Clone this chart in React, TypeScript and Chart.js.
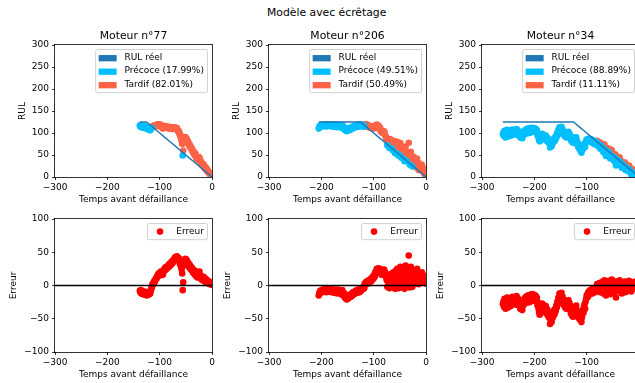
import React, { useEffect, useRef } from 'react';
import { Chart, registerables } from 'chart.js';

Chart.register(...registerables);

const FONT = '"DejaVu Sans", "Liberation Sans", sans-serif';

// ---- chart content -------------------------------------------------------
const SUPTITLE = 'Modèle avec écrêtage';
const ENGINES = [77, 206, 34];
const RUL_CAP = 125;

const X_MIN = -300;
const X_MAX = 0;
const X_STEP = 100;
const RUL_MIN = 0;
const RUL_MAX = 300;
const RUL_STEP = 50;
const ERR_MIN = -100;
const ERR_MAX = 100;
const ERR_STEP = 50;

const X_LABEL = 'Temps avant défaillance';
const RUL_LABEL = 'RUL';
const ERR_LABEL = 'Erreur';
const TRUE_NAME = 'RUL réel';
const EARLY_NAME = 'Précoce';
const LATE_NAME = 'Tardif';

// prediction error (predicted - true RUL), one value per cycle, last value at t = 0
const ERR_77 = [
  -8, -10, -7, -12, -9, -11, -13, -10, -12, -9,
  -14, -11, -13, -15, -12, -10, -14, -11, -13, -9,
  -12, -8, -5, -3,
  1, 3, 2, 5, 7, 6, 9, 11, 10, 14,
  13, 16, 18, 17, 15, 19, 21, 18, 20, 17,
  16, 19, 22, 25, 23, 27, 24, 28, 26, 29,
  27, 30, 32, 29, 33, 31, 34, 36, 33, 35,
  38, 36, 40, 42, 39, 43, 41, 44, 42, 40,
  38, 41, 36, 32, 35, 28, 24, 18, -7, 5,
  30, 34, 38, 40, 36, 39, 37, 33, 35, 30,
  28, 32, 26, 29, 24, 27, 22, 25, 19, 21,
  18, 16, 22, 20, 14, 17, 12, 15, 19, 13,
  21, 16, 11, 14, 9, 12, 8, 10, 13, 7,
  9, 6, 10, 5, 8, 4, 7, 3, 6, 4,
  2, 5, 3, 1, 2,
];

const ERR_206 = [
  -15, -12, -10, -8, -11, -9, -7, -10, -6, -8,
  -9, -7, -5, -8, -6, -10, -7, -9, -5, -8,
  -6, -9, -7, -5, -8, -10, -6, -9, -7, -11,
  -8, -6, -10, -7, -9, -12, -8, -6, -10, -7,
  -9, -11, -8, -13, -10, -7, -12, -15, -11, -14,
  -18, -16, -20, -17, -21, -15, -19, -16, -14, -18,
  -15, -17, -13, -16, -12, -14, -10, -13, -11, -9,
  -12, -8, -10, -7, -11, -9, -6, -8, -10, -7,
  -5, -8, -4, -6, -3, -5, -2, -4, 3, 1,
  5, 2, 6, 4, 7, 3, 8, 5, 9, 6,
  10, 7, 12, 9, 14, 11, 16, 13, 20, 18,
  22, 25, 21, 24, 26, 23, 20, 25, 22, 18,
  16, 20, 18, 22, 19, 24, 21, 17, 15, 12,
  8, -2, 14, 1, 10, -4, 17, 3, 12, -1,
  18, 6, -3, 20, 2, 15, -5, 22, 8, -2,
  25, 10, -4, 18, -1, 12, 28, 5, -3, 16,
  20, -2, 8, 14, -5, 22, 30, 6, -1, 11,
  18, 9, 45, 24, -3, 12, 28, 5, 16, -2,
  10, 22, 4, 15, 8, 19, 3, 12, 25, 7,
  14, 2, 18, 9, 5, 16, 11, 20, 6, 13,
  8, 15, 4, 10, 6, 3,
];

const ERR_34 = [
  -28, -24, -32, -20, -26, -35, -22, -30, -18, -25,
  -33, -21, -27, -19, -24, -31, -22, -28, -17, -26,
  -20, -23, -18, -25, -21, -29, -16, -24, -19, -27,
  -22, -30, -26, -35, -28, -33, -24, -37, -25, -30,
  -21, -27, -19, -24, -17, -22, -26, -15, -20, -23,
  -18, -25, -14, -21, -17, -23, -13, -19, -16, -22,
  -14, -18, -21, -16, -24, -19, -30, -26, -35, -40,
  -44, -36, -42, -30, -38, -27, -33, -29, -37, -32,
  -35, -40, -31, -38, -43, -36, -45, -41, -48, -44,
  -58, -52, -47, -55, -42, -49, -40, -45, -37, -43,
  -35, -38, -30, -33, -24, -28, -18, -22, -12, -16,
  -14, -20, -11, -25, -17, -28, -22, -30, -26, -33,
  -29, -35, -24, -31, -27, -22, -33, -26, -30, -38,
  -42, -36, -45, -40, -47, -38, -44, -33, -41, -35,
  -30, -37, -44, -39, -48, -42, -50, -46, -52, -40,
  -55, -48, -43, -36, -41, -32, -28, -35, -24, -20,
  -15, -18, -12, -16, -9, -13, -10, -7, -11, -6,
  -8, -12, -5, -9, -4, -7, -10, -3, -6, -2,
  2, -5, 1, -8, -3, 4, -10, -1, 3, -6,
  -4, 6, -12, -2, 8, -7, 1, -15, -3, 5,
  -9, 3, -1, 7, -6, -13, 2, -4, 9, -8,
  1, -5, 4, -11, -2, 6, -18, -7, 1, -3,
  5, -6, -1, 8, -9, -4, 2, -12, -2, 3,
  -7, 1, -3, 6, -10, -5, 4, -2, -8, 2,
  -4, 7, -1, -6, 3, -9, -2, 5, -5, -3,
  2, -4, -1, 6, -3, -2, -1, -2, -1, -1,
  -1,
];

const ERRORS = [ERR_77, ERR_206, ERR_34];

// ---- styling ---------------------------------------------------------------
const COLOR_TRUE = '#1f77b4';
const COLOR_EARLY = '#00bfff';
const COLOR_LATE = '#ff6347';
const COLOR_ERR = '#ff0000';

const TICK_FS = 9;
const TITLE_FS = 10.8;
const MARKER_R = 3.3;

const COL_LEFT = [55, 269, 482];
const PLOT_W = 157;
const ROW_TOP = [45, 219];
const ROW_H = [132, 133];
const M_LEFT = 55;
const M_TOP = 45;
const M_RIGHT = 12;
const M_BOTTOM = 36;

type LegendItem = { label: string; color: string; shape: 'rect' | 'circle' };

const minusSign = (v: number | string) => String(v).replace('-', '\u2212');

function roundedRect(ctx: CanvasRenderingContext2D, x: number, y: number, w: number, h: number, r: number) {
  ctx.beginPath();
  ctx.moveTo(x + r, y);
  ctx.lineTo(x + w - r, y);
  ctx.arcTo(x + w, y, x + w, y + r, r);
  ctx.lineTo(x + w, y + h - r);
  ctx.arcTo(x + w, y + h, x + w - r, y + h, r);
  ctx.lineTo(x + r, y + h);
  ctx.arcTo(x, y + h, x, y + h - r, r);
  ctx.lineTo(x, y + r);
  ctx.arcTo(x, y, x + r, y, r);
  ctx.closePath();
}

function drawLegend(ctx: CanvasRenderingContext2D, area: any, items: LegendItem[]) {
  const fs = TICK_FS;
  ctx.font = `${fs}px ${FONT}`;
  const textW = Math.max(...items.map((it) => ctx.measureText(it.label).width));
  const pad = 0.4 * fs;
  const handleLen = 2 * fs;
  const handleGap = 0.8 * fs;
  const rowGap = 0.5 * fs;
  const axPad = 0.5 * fs;
  const boxW = pad + handleLen + handleGap + textW + pad;
  const boxH = 2 * pad + items.length * fs + (items.length - 1) * rowGap;
  const x0 = area.right - axPad - boxW;
  const y0 = area.top + axPad;

  roundedRect(ctx, x0, y0, boxW, boxH, 1.8);
  ctx.fillStyle = 'rgba(255,255,255,0.8)';
  ctx.fill();
  ctx.strokeStyle = '#cccccc';
  ctx.lineWidth = 0.9;
  ctx.stroke();

  items.forEach((it, i) => {
    const cy = y0 + pad + fs / 2 + i * (fs + rowGap);
    ctx.fillStyle = it.color;
    if (it.shape === 'rect') {
      ctx.fillRect(x0 + pad - 0.6, cy - 0.35 * fs + 0.6, handleLen, 0.7 * fs);
    } else {
      ctx.beginPath();
      ctx.arc(x0 + pad + handleLen / 2, cy, MARKER_R, 0, Math.PI * 2);
      ctx.fill();
    }
    ctx.fillStyle = '#000';
    ctx.textAlign = 'left';
    ctx.textBaseline = 'middle';
    ctx.fillText(it.label, x0 + pad + handleLen + handleGap, cy);
  });
}

function Panel({ row, col }: { row: number; col: number }) {
  const ref = useRef<HTMLCanvasElement | null>(null);
  const w = M_LEFT + PLOT_W + M_RIGHT;
  const h = M_TOP + ROW_H[row] + M_BOTTOM;

  useEffect(() => {
    const canvas = ref.current;
    if (!canvas) return;
    const errs = ERRORS[col];
    const n = errs.length;
    const times = errs.map((_, i) => i - (n - 1));
    const truth = times.map((t) => Math.min(-t, RUL_CAP));

    const tickFont = { family: FONT, size: TICK_FS };
    const scatterStyle = (color: string) => ({
      showLine: false,
      pointRadius: MARKER_R,
      pointHoverRadius: MARKER_R,
      pointBorderWidth: 0,
      pointBackgroundColor: color,
      pointBorderColor: color,
      backgroundColor: color,
      borderColor: color,
      clip: 0,
    });

    let datasets: any[];
    let legend: LegendItem[];
    let title = '';
    if (row === 0) {
      const early: { x: number; y: number }[] = [];
      const late: { x: number; y: number }[] = [];
      errs.forEach((e, i) => {
        const p = { x: times[i], y: truth[i] + e };
        if (e < 0) early.push(p);
        else late.push(p);
      });
      const pctEarly = ((100 * early.length) / n).toFixed(2);
      const pctLate = ((100 * late.length) / n).toFixed(2);
      datasets = [
        {
          label: TRUE_NAME,
          data: times.map((t, i) => ({ x: t, y: truth[i] })),
          showLine: true,
          borderColor: COLOR_TRUE,
          borderWidth: 1.4,
          pointRadius: 0,
          tension: 0,
          order: 0,
          clip: 0,
        },
        { label: EARLY_NAME, data: early, order: 1, ...scatterStyle(COLOR_EARLY) },
        { label: LATE_NAME, data: late, order: 2, ...scatterStyle(COLOR_LATE) },
      ];
      legend = [
        { label: TRUE_NAME, color: COLOR_TRUE, shape: 'rect' },
        { label: `${EARLY_NAME} (${pctEarly}%)`, color: COLOR_EARLY, shape: 'rect' },
        { label: `${LATE_NAME} (${pctLate}%)`, color: COLOR_LATE, shape: 'rect' },
      ];
      title = `Moteur n°${ENGINES[col]}`;
    } else {
      datasets = [
        {
          label: 'zero',
          data: [
            { x: X_MIN, y: 0 },
            { x: X_MAX, y: 0 },
          ],
          showLine: true,
          borderColor: '#000',
          borderWidth: 1.5,
          pointRadius: 0,
          order: 0,
          clip: 0,
        },
        {
          label: ERR_LABEL,
          data: errs.map((e, i) => ({ x: times[i], y: e })),
          order: 1,
          ...scatterStyle(COLOR_ERR),
        },
      ];
      legend = [{ label: ERR_LABEL, color: COLOR_ERR, shape: 'circle' }];
    }

    const decor = {
      id: 'panelDecor',
      afterDraw(chart: any) {
        const { ctx, chartArea: a } = chart;
        ctx.save();
        ctx.strokeStyle = '#000';
        ctx.lineWidth = 0.8;
        ctx.strokeRect(a.left - 0.5, a.top - 0.5, a.right - a.left + 1, a.bottom - a.top + 1);
        if (title) {
          ctx.font = `${TITLE_FS}px ${FONT}`;
          ctx.fillStyle = '#000';
          ctx.textAlign = 'center';
          ctx.textBaseline = 'alphabetic';
          ctx.fillText(title, (a.left + a.right) / 2, a.top - 5.7);
        }
        drawLegend(ctx, a, legend);
        ctx.restore();
      },
    };

    const yMin = row === 0 ? RUL_MIN : ERR_MIN;
    const yMax = row === 0 ? RUL_MAX : ERR_MAX;
    const yStep = row === 0 ? RUL_STEP : ERR_STEP;
    const yLabel = row === 0 ? RUL_LABEL : ERR_LABEL;
    const yTitlePad = row === 0 ? 17.3 : 8.6;

    const grid = {
      drawOnChartArea: false,
      drawTicks: true,
      tickLength: 3,
      tickColor: '#000',
      lineWidth: 0.8,
    };

    const chart = new Chart(canvas, {
      type: 'scatter',
      data: { datasets },
      options: {
        responsive: false,
        animation: false,
        devicePixelRatio: 1,
        events: [],
        layout: { padding: { left: 0, top: M_TOP, right: M_RIGHT, bottom: 0 } },
        plugins: {
          legend: { display: false },
          tooltip: { enabled: false },
          title: { display: false },
        },
        scales: {
          x: {
            type: 'linear',
            position: 'bottom',
            min: X_MIN,
            max: X_MAX,
            afterFit: (s: any) => {
              s.height = M_BOTTOM;
              s.paddingLeft = 0;
              s.paddingRight = 0;
            },
            ticks: {
              stepSize: X_STEP,
              font: tickFont,
              color: '#000',
              padding: 2,
              maxRotation: 0,
              autoSkip: false,
              callback: (v: any) => minusSign(v),
            },
            grid,
            border: { display: false },
            title: {
              display: true,
              text: X_LABEL,
              font: tickFont,
              color: '#000',
              padding: { top: 0, bottom: 8.3 },
            },
          },
          y: {
            type: 'linear',
            position: 'left',
            min: yMin,
            max: yMax,
            afterFit: (s: any) => {
              s.width = M_LEFT;
              s.paddingTop = 0;
              s.paddingBottom = 0;
            },
            ticks: {
              stepSize: yStep,
              font: tickFont,
              color: '#000',
              padding: 3,
              autoSkip: false,
              callback: (v: any) => minusSign(v),
            },
            grid,
            border: { display: false },
            title: {
              display: true,
              text: yLabel,
              font: tickFont,
              color: '#000',
              padding: { top: yTitlePad, bottom: 0 },
            },
          },
        },
      },
      plugins: [decor],
    } as any);

    return () => chart.destroy();
  }, [row, col]);

  return (
    <canvas
      ref={ref}
      width={w}
      height={h}
      style={{
        position: 'absolute',
        left: COL_LEFT[col] - M_LEFT,
        top: ROW_TOP[row] - M_TOP,
        width: w,
        height: h,
      }}
    />
  );
}

export default function App() {
  return (
    <div
      style={{
        position: 'fixed',
        left: 0,
        top: 0,
        width: 635,
        height: 383,
        overflow: 'hidden',
        background: '#fff',
      }}
    >
      <div
        style={{
          position: 'absolute',
          left: 0,
          top: 5.5,
          width: 653.4,
          textAlign: 'center',
          fontFamily: FONT,
          fontSize: `${TITLE_FS}px`,
          lineHeight: '13px',
          color: '#000',
          whiteSpace: 'nowrap',
        }}
      >
        {SUPTITLE}
      </div>
      {[0, 1].map((row) =>
        [0, 1, 2].map((col) => <Panel key={`${row}-${col}`} row={row} col={col} />)
      )}
    </div>
  );
}
